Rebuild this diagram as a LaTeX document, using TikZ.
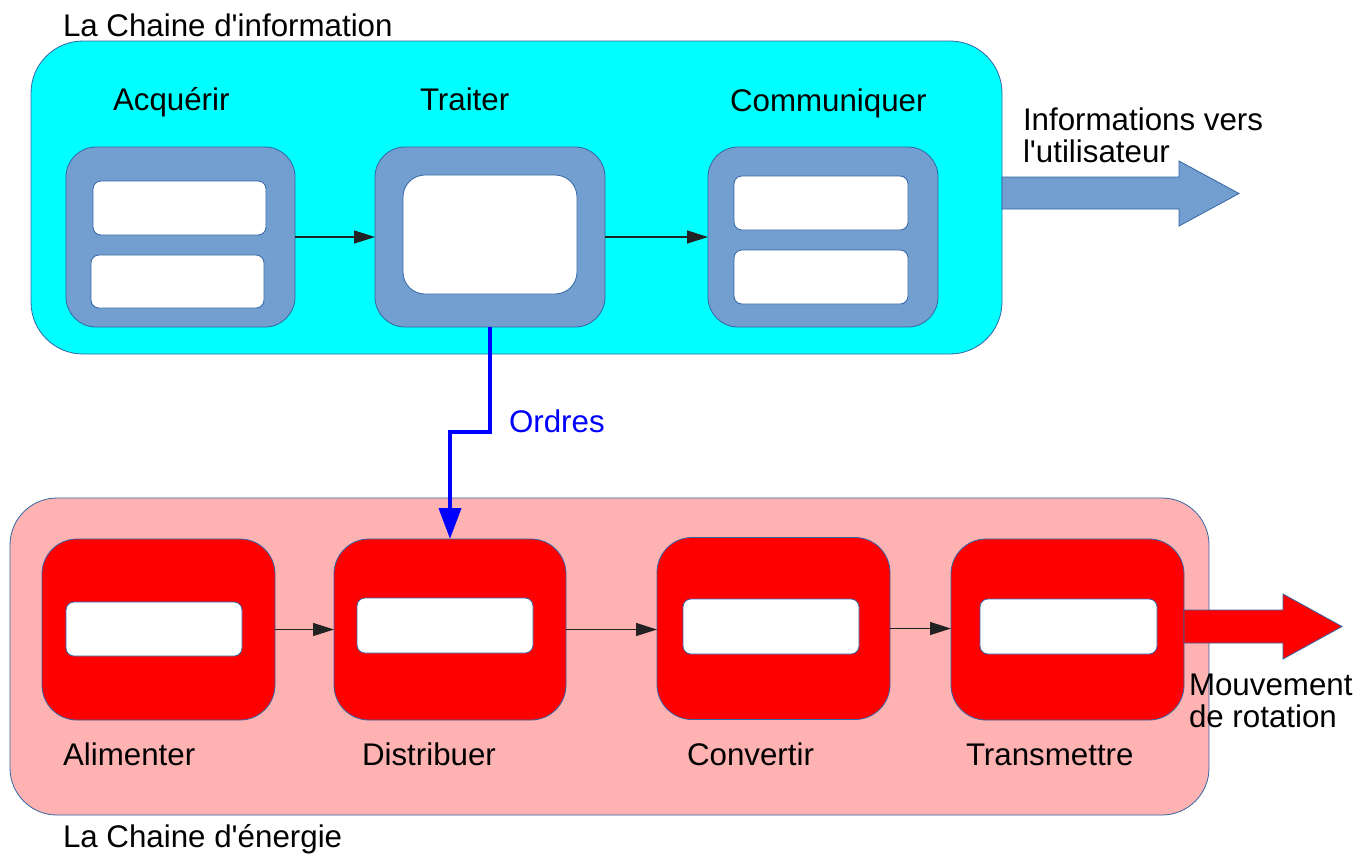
\documentclass[tikz,border=0pt]{standalone}
\usepackage{fontspec}
\setmainfont{Liberation Sans}
\usetikzlibrary{arrows.meta}
\definecolor{bord}{HTML}{3465A4}
\definecolor{infobg}{HTML}{00FFFF}
\definecolor{bluebox}{HTML}{729FCF}
\definecolor{pinkbg}{HTML}{FFB2B2}
\definecolor{redbox}{HTML}{FF0000}
\definecolor{connc}{HTML}{222222}
\definecolor{ordc}{HTML}{0000FF}
\newcommand{\apos}{\textquotesingle}
\begin{document}
\begin{tikzpicture}[x=1pt,y=-1pt,
  every node/.style={inner sep=0pt, outer sep=0pt},
  lbl/.style={anchor=base west, font=\fontsize{31.3}{32}\selectfont, text=black, align=left},
  panel/.style={draw=bord, line width=0.8pt, rectangle},
  bigc/.style={panel, fill=infobg, rounded corners=52pt},
  bige/.style={panel, fill=pinkbg, rounded corners=47pt},
  bbox/.style={panel, fill=bluebox, rounded corners=30pt},
  rbox/.style={panel, fill=redbox, rounded corners=35pt},
  wbox/.style={panel, fill=white, rounded corners=#1},
  wbox/.default=8pt,
  conn/.style={draw=connc, line width=1.2pt, -{Triangle[length=21pt,width=13pt]}},
  ordre/.style={draw=ordc, line width=4pt, -{Triangle[length=31pt,width=22pt]}},
  bigarrow/.style={draw=bord, line width=0.8pt, line join=miter}
]
\useasboundingbox (0,0) rectangle (1372,855);

% --- information chain ---
\node[bigc, minimum width=971pt, minimum height=313pt] (info) at (516.5,197.5) {};
\draw[bigarrow, fill=bluebox] (info.east |- 0,177) -- (1179,177) -- (1179,161) -- (1239,193.5)
  -- (1179,226) -- (1179,209) -- (info.east |- 0,209) -- cycle;

\node[bbox, minimum width=229pt, minimum height=180pt] (acq) at (180.5,237) {};
\node[wbox, minimum width=173pt, minimum height=54pt] (acq1) at (179.5,208) {};
\node[wbox, minimum width=173pt, minimum height=53pt] (acq2) at (177.5,281.5) {};

\node[bbox, minimum width=230pt, minimum height=180pt] (tra) at (490,237) {};
\node[wbox=22pt, minimum width=174pt, minimum height=119pt] (tra1) at (490,234.5) {};

\node[bbox, minimum width=230pt, minimum height=180pt] (com) at (823,237) {};
\node[wbox, minimum width=174pt, minimum height=54pt] (com1) at (821,203) {};
\node[wbox, minimum width=174pt, minimum height=54pt] (com2) at (821,277) {};

\draw[conn] (acq.east) -- (tra.west);
\draw[conn] (tra.east) -- (com.west);

\node[lbl] (tinfo) at (63,36) {La Chaine d\apos information};
\node[lbl] (tacq) at (113,110) {Acquérir};
\node[lbl] (ttra) at (420,110) {Traiter};
\node[lbl] (tcom) at (730,111) {Communiquer};
\node[lbl] (tutil) at (1023,162) {Informations vers\\l\apos utilisateur};

% --- energy chain ---
\node[bige, minimum width=1199pt, minimum height=317pt] (ener) at (609.5,656.5) {};

\node[rbox, minimum width=233pt, minimum height=181pt] (ali) at (158.5,629.5) {};
\node[wbox, minimum width=176pt, minimum height=54pt] (ali1) at (154,629) {};

\node[rbox, minimum width=232pt, minimum height=181pt] (dis) at (450,629.5) {};
\node[wbox, minimum width=176pt, minimum height=55pt] (dis1) at (445,625.5) {};

\node[rbox, minimum width=233pt, minimum height=182pt] (con) at (773.5,628.5) {};
\node[wbox, minimum width=176pt, minimum height=55pt] (con1) at (771,626.5) {};

\node[rbox, minimum width=233pt, minimum height=181pt] (tsm) at (1067.5,629.5) {};
\node[wbox, minimum width=177pt, minimum height=55pt] (tsm1) at (1068.5,626.5) {};

\draw[bigarrow, fill=redbox] (tsm.east |- 0,610) -- (1283,610) -- (1283,594) -- (1342,626.5)
  -- (1283,659) -- (1283,643) -- (tsm.east |- 0,643) -- cycle;

\draw[conn] (ali.east) -- (dis.west);
\draw[conn] (dis.east) -- (dis.east -| con.west);
\draw[conn] (con.east) -- (con.east -| tsm.west);

\node[lbl] (tali) at (63,765) {Alimenter};
\node[lbl] (tdis) at (362,765) {Distribuer};
\node[lbl] (tcon) at (687,765) {Convertir};
\node[lbl] (ttsm) at (966,765) {Transmettre};
\node[lbl] (tener) at (63,847) {La Chaine d\apos énergie};
\node[lbl] (tmouv) at (1189,727) {Mouvement\\de rotation};

% --- orders ---
\draw[ordre] (tra.south) -- ++(0,105) -| (dis.north);
\node[lbl, text=ordc] (tord) at (509,432) {Ordres};
\end{tikzpicture}
\end{document}
